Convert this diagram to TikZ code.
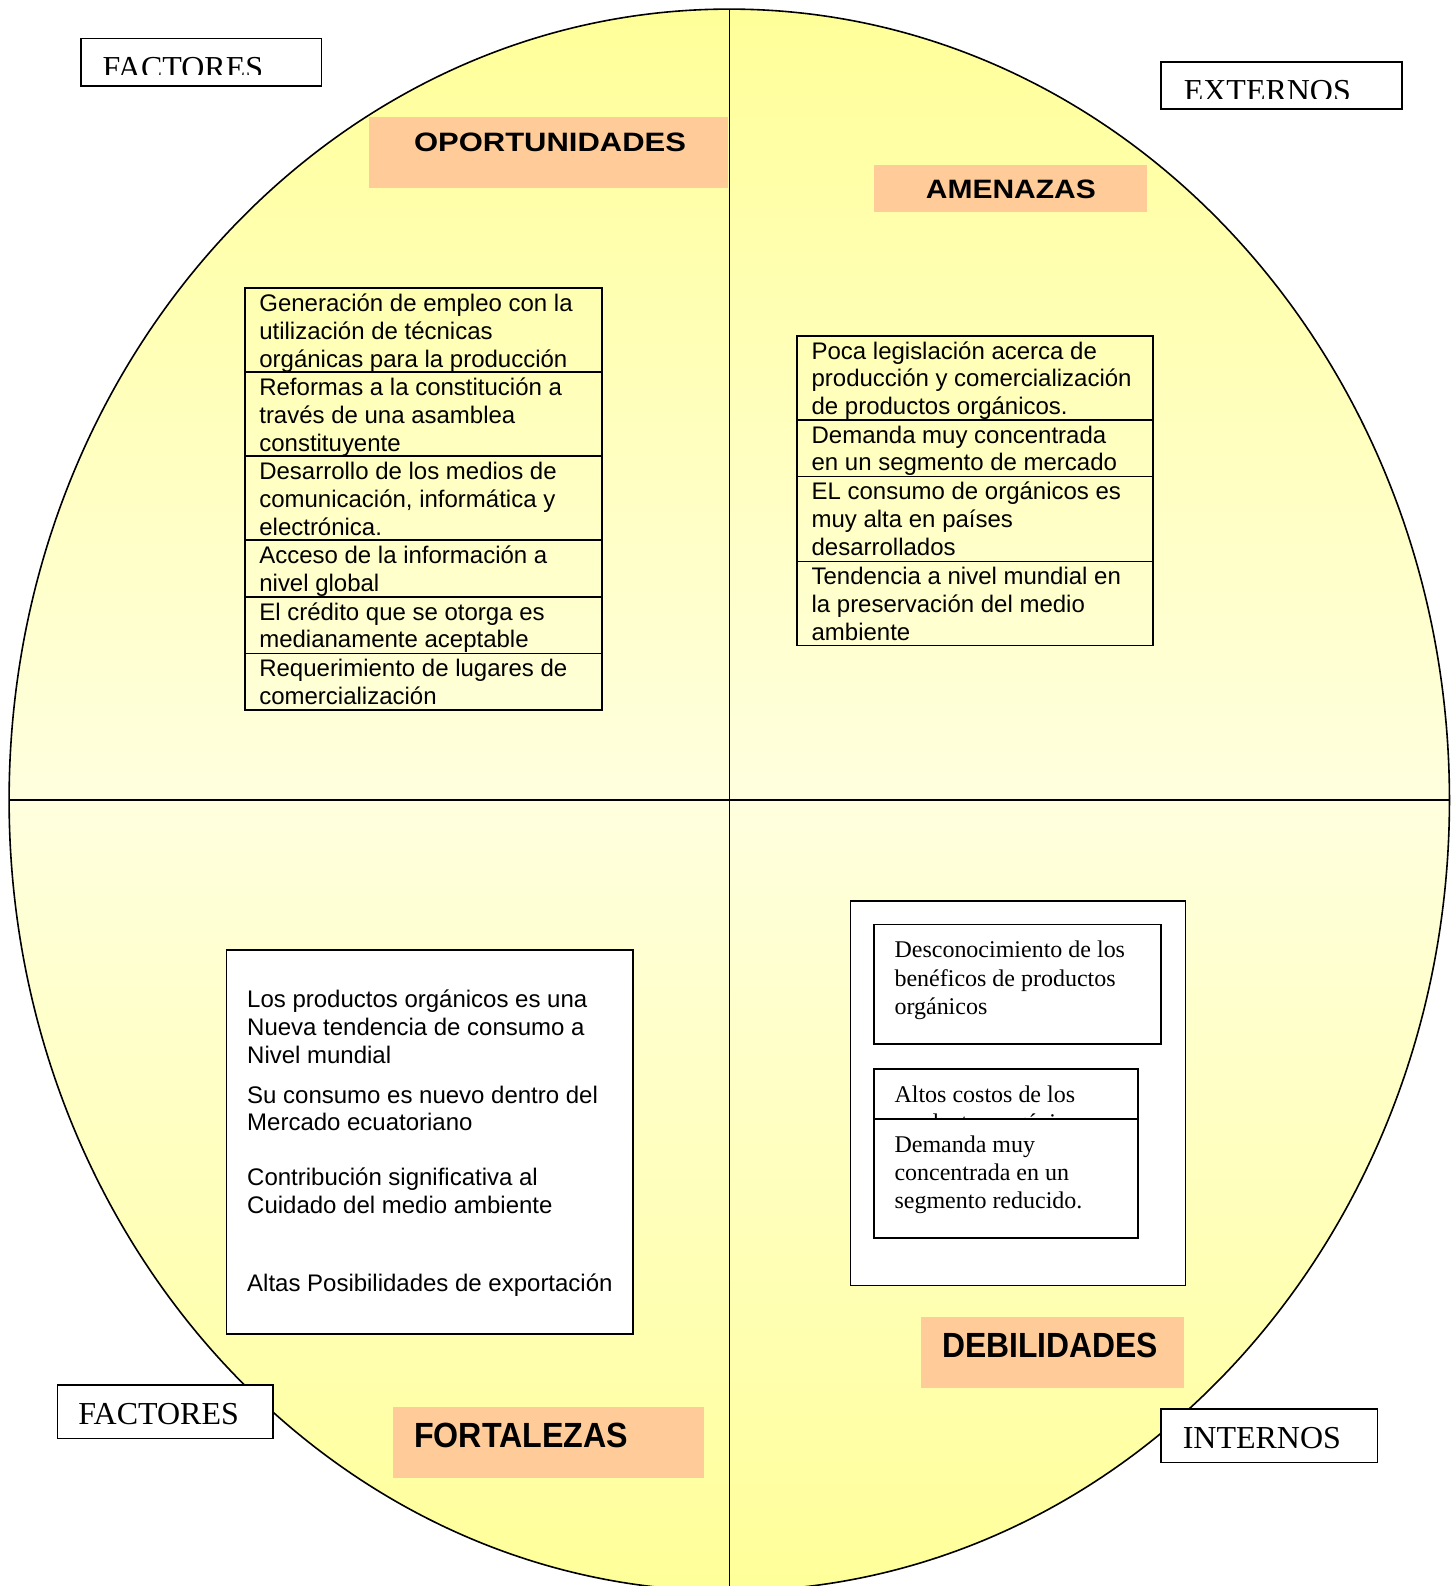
\documentclass[tikz,border=0pt]{standalone}
\usepackage{fontspec}
\setmainfont{Liberation Serif}
\newfontfamily\arialfam{Liberation Sans}
\newfontfamily\timesfam{Liberation Serif}
\definecolor{sunY}{HTML}{FFFF99}
\definecolor{paleY}{HTML}{FFFFDF}
\definecolor{peach}{HTML}{FFCC99}
% body fonts
\newcommand\sansbody{\arialfam\fontsize{12}{13.9}\selectfont}
\newcommand\serifbody{\timesfam\fontsize{12}{14.2}\selectfont}
\newcommand\tagfont{\timesfam\fontsize{16}{18}\selectfont}
\newcommand\bannerfont{\arialfam\bfseries\fontsize{13.3}{15}\selectfont}
\newcommand\bigbannerfont{\arialfam\bfseries\fontsize{17.5}{20}\selectfont}
% stacked lines, first baseline on the node's base
\newcommand\stackl[1]{\begin{tabular}[t]{@{}l@{}}#1\end{tabular}}
\begin{document}
\begin{tikzpicture}[x=0.506pt,y=-0.506pt,
  txt/.style={inner sep=0pt,anchor=base west},
  cell/.style={draw=black,line width=0.8pt},
  whitecell/.style={draw=black,fill=white,line width=0.8pt},
  tag/.style={draw=black,fill=white,line width=0.8pt},
  banner/.style={fill=peach}]
\useasboundingbox (0,0) rectangle (1439,1568);
\fill[white] (0,0) rectangle (1439,1568);

% main oval with vertical gradient
\coordinate (ctr) at (721,791);
\shade[top color=sunY,bottom color=sunY,middle color=paleY]
  (ctr) ellipse [x radius=712,y radius=782];
\draw[line width=0.8pt] (ctr) ellipse [x radius=712,y radius=782];
\coordinate (vtop) at (721,9);
\coordinate (vbot) at (721,1573);
\coordinate (hl) at (9,791);
\coordinate (hr) at (1433,791);
\draw[line width=0.7pt] (vtop) -- (vbot);
\draw[line width=1.1pt] (hl) -- (hr);

% quadrant titles
\fill[banner] (365,116) rectangle (720,186);
\node[txt,font=\bannerfont] (opo) at (409,150) {\scalebox{1.165}[1]{OPORTUNIDADES}};
\fill[banner] (864,163) rectangle (1134,210);
\node[txt,font=\bannerfont] (ame) at (915,196) {\scalebox{1.128}[1]{AMENAZAS}};
\fill[banner] (911,1302) rectangle (1171,1372);
\node[txt,font=\bigbannerfont] (deb) at (931,1342.4) {\scalebox{0.91}[1]{DEBILIDADES}};
\fill[banner] (389,1391) rectangle (696,1461);
\node[txt,font=\bigbannerfont] (fort) at (409,1431.4) {\scalebox{0.92}[1]{FORTALEZAS}};

% opportunities table
\foreach \t/\b in {285/368,368/451,451/534,534/590,590/646,646/702}
  \draw[cell] (242,\t) rectangle (595,\b);
\node[txt,font=\sansbody] (o1) at (256,308) {\stackl{Generación de empleo con la\\utilización de técnicas\\orgánicas para la producción}};
\node[txt,font=\sansbody] (o2) at (256,391) {\stackl{Reformas a la constitución a\\través de una asamblea\\constituyente}};
\node[txt,font=\sansbody] (o3) at (256,474) {\stackl{Desarrollo de los medios de\\comunicación, informática y\\electrónica.}};
\node[txt,font=\sansbody] (o4) at (256,557) {\stackl{Acceso de la información a\\nivel global}};
\node[txt,font=\sansbody] (o5) at (256,613) {\stackl{El crédito que se otorga es\\medianamente aceptable}};
\node[txt,font=\sansbody] (o6) at (256,669) {\stackl{Requerimiento de lugares de\\comercialización}};

% threats table
\foreach \t/\b in {332/415,415/471,471/555,555/638}
  \draw[cell] (788,\t) rectangle (1140,\b);
\node[txt,font=\sansbody] (a1) at (802,355) {\stackl{Poca legislación acerca de\\producción y comercialización\\de productos orgánicos.}};
\node[txt,font=\sansbody] (a2) at (802,438) {\stackl{Demanda muy concentrada\\en un segmento de mercado}};
\node[txt,font=\sansbody] (a3) at (802,494) {\stackl{EL consumo de orgánicos es\\muy alta en países\\desarrollados}};
\node[txt,font=\sansbody] (a4) at (802,578) {\stackl{Tendencia a nivel mundial en\\la preservación del medio\\ambiente}};

% strengths box
\draw[whitecell] (224,939) rectangle (626,1319);
\node[txt,font=\sansbody] (f1) at (244,996.5) {\stackl{Los productos orgánicos es una\\Nueva tendencia de consumo a\\Nivel mundial}};
\node[txt,font=\sansbody] (f2) at (244,1090.5) {\stackl{Su consumo es nuevo dentro del\\Mercado ecuatoriano}};
\node[txt,font=\sansbody] (f3) at (244,1172.5) {\stackl{Contribución significativa al\\Cuidado del medio ambiente}};
\node[txt,font=\sansbody] (f4) at (244,1276.5) {Altas Posibilidades de exportación};

% weaknesses box
\draw[whitecell] (841,891) rectangle (1172,1271);
\draw[whitecell] (864,914) rectangle (1148,1032);
\node[txt,font=\serifbody] (d1) at (884,947) {\stackl{Desconocimiento de los\\benéficos de productos\\orgánicos}};
\draw[whitecell] (864,1057) rectangle (1125,1160);
\node[txt,font=\serifbody] (d2) at (884,1090) {\stackl{Altos costos de los\\productos orgánicos}};
\draw[whitecell] (864,1106) rectangle (1125,1224);
\node[txt,font=\serifbody] (d3) at (884,1139) {\stackl{Demanda muy\\concentrada en un\\segmento reducido.}};

% side tags
\draw[tag] (80,38) rectangle (318,85);
\begin{scope}
  \clip (80,38) rectangle (318,74);
  \node[txt,font=\tagfont] (fx1) at (101,77.5) {FACTORES};
\end{scope}
\draw[tag] (1148,61) rectangle (1386,108);
\begin{scope}
  \clip (1148,61) rectangle (1386,97);
  \node[txt,font=\tagfont] (ext) at (1170,100) {EXTERNOS};
\end{scope}
\draw[tag] (57,1369) rectangle (270,1422);
\node[txt,font=\tagfont] (fx2) at (77,1408.5) {FACTORES};
\draw[tag] (1148,1393) rectangle (1362,1446);
\node[txt,font=\tagfont] (int) at (1169,1432.5) {INTERNOS};
\end{tikzpicture}
\end{document}
